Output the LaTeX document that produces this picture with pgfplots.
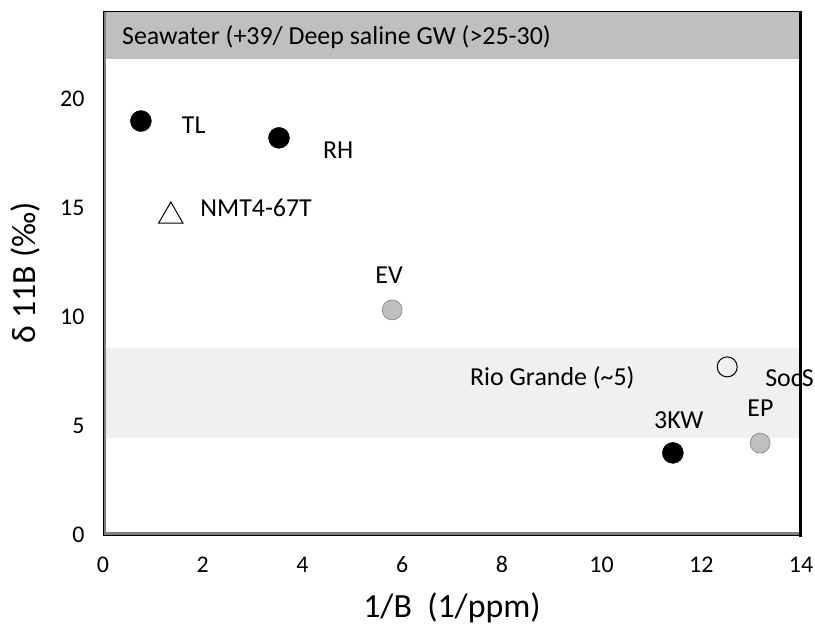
\documentclass[border=0pt]{standalone}
\usepackage{pgfplots}
\pgfplotsset{compat=1.18}
\usepackage{fontspec}
\setmainfont{Carlito}

\definecolor{bandgray}{RGB}{191,191,191}
\definecolor{rgband}{RGB}{240,240,240}
\definecolor{framegray}{RGB}{128,128,128}

\begin{document}
\begin{tikzpicture}
\useasboundingbox (-103bp,-95bp) rectangle (712bp,535bp);
\begin{axis}[
  width=698bp, height=524bp, scale only axis,
  xmin=0, xmax=14, ymin=0, ymax=24,
  xtick={0,2,...,14}, ytick={0,5,10,15,20},
  major tick length=0pt,
  axis line style={draw=none},
  clip=false,
  /pgf/number format/assume math mode=true,
  tick label style={font=\fontsize{24}{29}\selectfont},
  yticklabel style={anchor=east, xshift=-15bp},
  xticklabel style={anchor=base, yshift=-37bp},
  xlabel={1/B\ \ (1/ppm)},
  ylabel={δ 11B (‰)},
  label style={font=\fontsize{34}{40}\selectfont},
  xlabel style={at={(axis description cs:0.5,-0.139)}, anchor=center},
  ylabel style={at={(axis description cs:-0.1117,0.5)}, anchor=center},
]
% reference bands
\fill[bandgray] (axis cs:0,21.8) rectangle (axis cs:14,24);
\fill[rgband] (axis cs:0,4.44) rectangle (axis cs:14,8.57);

% filled black samples
\addplot[only marks, mark=*, mark size=10.5bp, mark options={fill=black, draw=black}]
  coordinates {(0.76,18.96) (3.53,18.19) (11.43,3.76)};
% grey samples
\addplot[only marks, mark=*, mark size=10bp, mark options={fill=bandgray, draw=framegray, line width=0.6bp}]
  coordinates {(5.80,10.31) (13.18,4.21)};
% open circle
\addplot[only marks, mark=o, mark size=10bp, mark options={draw=black, line width=1bp}]
  coordinates {(12.52,7.70)};
% open triangle
\addplot[only marks, mark=triangle, mark size=14bp, mark options={draw=black, line width=1bp}]
  coordinates {(1.36,14.61)};

\begin{scope}[every node/.style={font=\fontsize{26}{31}\selectfont, anchor=west, inner sep=0pt}]
\node at (axis cs:0.38,22.81) {Seawater (+39/ Deep saline GW (>25-30)};
\node at (axis cs:1.58,18.78) {TL};
\node at (axis cs:4.41,17.64) {RH};
\node at (axis cs:1.95,14.98) {NMT4-67T};
\node at (axis cs:5.46,11.91) {EV};
\node at (axis cs:7.36,7.19) {Rio Grande (\textasciitilde 5)};
\node at (axis cs:11.05,5.27) {3KW};
\node at (axis cs:12.92,5.82) {EP};
\node at (axis cs:13.28,7.19) {SocS};
\end{scope}

% frame
\draw[framegray, line width=3bp] ([xshift=1.5bp]rel axis cs:0,0) -- ([xshift=1.5bp]rel axis cs:0,1);
\draw[framegray, line width=3bp] ([yshift=1.5bp]rel axis cs:0,0) -- ([yshift=1.5bp]rel axis cs:1,0);
\draw[black, line width=0.8bp] (rel axis cs:0,0) rectangle (rel axis cs:1,1);
\draw[black, line width=3bp] ([xshift=-0.5bp]rel axis cs:1,-0.003) -- ([xshift=-0.5bp]rel axis cs:1,1);
\end{axis}
\end{tikzpicture}
\end{document}
